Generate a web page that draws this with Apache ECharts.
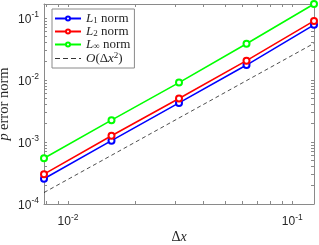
<!DOCTYPE html>
<html><head><meta charset="utf-8">
<script src="https://cdn.jsdelivr.net/npm/echarts@6/dist/echarts.min.js"></script>
<style>html,body{margin:0;padding:0;background:#fff}#c{width:319px;height:245px}</style>
</head><body><div id="c"></div>
<script>
const dx = [0.0078125, 0.015625, 0.03125, 0.0625, 0.125];
const L1 = [2.55e-4, 1.05e-3, 4.27e-3, 1.74e-2, 7.75e-2];
const L2 = [3.03e-4, 1.26e-3, 5.02e-3, 2.05e-2, 8.97e-2];
const Linf = [5.47e-4, 2.25e-3, 9.08e-3, 3.84e-2, 1.68e-1];
const ref = [1.53e-4, 6.1e-4, 2.44e-3, 9.77e-3, 3.9e-2];
const xLabels = [0.01, 0.1];
const yLabels = [1e-4, 1e-3, 1e-2, 1e-1];
const xTicks = [0.008, 0.009, 0.01, 0.02, 0.03, 0.04, 0.05, 0.06, 0.07, 0.08, 0.09, 0.1];
const yTicks = [1e-4, 2e-4, 3e-4, 4e-4, 5e-4, 6e-4, 7e-4, 8e-4, 9e-4,
  1e-3, 2e-3, 3e-3, 4e-3, 5e-3, 6e-3, 7e-3, 8e-3, 9e-3,
  1e-2, 2e-2, 3e-2, 4e-2, 5e-2, 6e-2, 7e-2, 8e-2, 9e-2, 1e-1];
const xRange = [0.0078125, 0.125];
const yRange = [1e-4, 0.168];

const axisColor = '#8a8a8a';
const textColor = '#262626';
const serif = 'Liberation Serif';
const sans = 'Liberation Sans';

const labelRich = {
  b: {fontSize: 12, fontFamily: sans, color: textColor, verticalAlign: 'bottom'},
  s: {fontSize: 8.5, fontFamily: sans, color: textColor, verticalAlign: 'bottom', padding: [0, 0, 6, 0]}
};
function powFmt(v) {
  const e = Math.round(Math.log10(v));
  return '{b|10}{s|' + e + '}';
}
function mkAxis(pos, range, labels, ticks, show) {
  return {
    type: 'log', logBase: 10, position: pos, min: range[0], max: range[1],
    nameMoveOverlap: false,
    axisLine: {show: true, lineStyle: {color: axisColor, width: 1}},
    axisTick: {show: true, inside: true, length: 3, customValues: ticks, lineStyle: {color: axisColor, width: 1}},
    minorTick: {show: false},
    splitLine: {show: false},
    axisLabel: show ? {show: true, customValues: labels, formatter: powFmt, rich: labelRich, margin: 5} : {show: false}
  };
}
const xa0 = mkAxis('bottom', xRange, xLabels, xTicks, true);
xa0.axisLabel.margin = 9;
xa0.name = '{t|Δ}{i|x}';
xa0.nameLocation = 'middle';
xa0.nameGap = 26;
xa0.nameTextStyle = {rich: {
  t: {fontSize: 14, fontFamily: serif, color: textColor},
  i: {fontSize: 14, fontFamily: serif, fontStyle: 'italic', color: textColor}
}};
const ya0 = mkAxis('left', yRange, yLabels, yTicks, true);
ya0.name = '{i|p} {t|error norm}';
ya0.nameLocation = 'middle';
ya0.nameGap = 32;
ya0.nameTextStyle = {rich: {
  t: {fontSize: 14.5, fontFamily: serif, color: textColor},
  i: {fontSize: 14.5, fontFamily: serif, fontStyle: 'italic', color: textColor}
}};
const xa1 = mkAxis('top', xRange, xLabels, xTicks, false);
const ya1 = mkAxis('right', yRange, yLabels, yTicks, false);

function pts(arr) { return dx.map((x, i) => [x, arr[i]]); }
function lineSeries(name, arr, color) {
  return {
    name, type: 'line', data: pts(arr), symbol: 'emptyCircle', symbolSize: 6,
    clip: false,
    lineStyle: {color, width: 1.6},
    itemStyle: {color, borderColor: color, borderWidth: 1.4},
    emphasis: {disabled: true}
  };
}
const legendNames = {
  L1: '{i|L}{sub|1} {t|norm}',
  L2: '{i|L}{sub|2} {t|norm}',
  Linf: '{i|L}{sub|∞} {t|norm}',
  O: '{i|O}{t|(Δ}{i|x}{sup|2}{t|)}'
};
const option = {
  animation: false,
  grid: {left: 44, right: 5, top: 4, bottom: 41, containLabel: false, outerBoundsMode: 'none'},
  xAxis: [xa0, xa1],
  yAxis: [ya0, ya1],
  legend: {
    orient: 'vertical', left: 52, top: 9,
    padding: [3, 4, 3, 2], itemGap: 0, itemWidth: 26, itemHeight: 5,
    backgroundColor: '#fff', borderColor: axisColor, borderWidth: 1,
    data: ['L1', 'L2', 'Linf', {name: 'O', itemStyle: {opacity: 0}, lineStyle: {width: 0.8, type: [5, 3]}}],
    formatter: n => legendNames[n],
    textStyle: {rich: {
      t: {fontSize: 13, lineHeight: 15, fontFamily: serif, color: textColor},
      i: {fontSize: 13, lineHeight: 15, fontFamily: serif, fontStyle: 'italic', color: textColor},
      sub: {fontSize: 9, fontFamily: serif, color: textColor, padding: [4, 0, 0, 0]},
      sup: {fontSize: 9, fontFamily: serif, color: textColor, padding: [0, 0, 6, 0]}
    }}
  },
  series: [
    lineSeries('L1', L1, '#0000ff'),
    lineSeries('L2', L2, '#ff0000'),
    lineSeries('Linf', Linf, '#00ff00'),
    {
      name: 'O', type: 'line', data: pts(ref), symbol: 'none',
      lineStyle: {color: '#000', width: 0.7, type: [4, 3]},
      itemStyle: {color: '#000'}, emphasis: {disabled: true}
    }
  ]
};
echarts.init(document.getElementById('c')).setOption(option);
</script></body></html>
